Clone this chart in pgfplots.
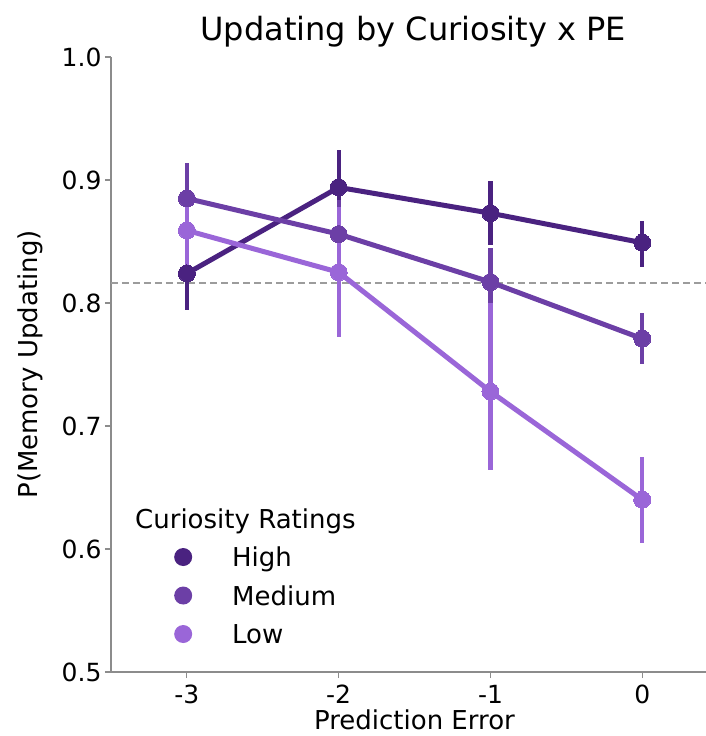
\documentclass[border=0pt]{standalone}
\usepackage{fontspec}
\setmainfont{DejaVu Sans}
\usepackage{pgfplots}
\pgfplotsset{compat=1.18}

\definecolor{HighC}{HTML}{4A2280}
\definecolor{MedC}{HTML}{6C3FA6}
\definecolor{LowC}{HTML}{9A66D8}
\definecolor{SpineC}{HTML}{8C8C8C}
\definecolor{RefC}{HTML}{9C9C9C}

\pgfplotsset{
  pe series/.style={
    color=#1, line width=5pt, mark=*, mark size=8.5pt,
    mark options={solid, fill=#1, draw=#1, line width=0pt},
    error bars/y dir=both, error bars/y explicit, error bars/error mark=none,
    error bars/error bar style={line width=4.2pt, color=#1},
  },
  dot legend/.style={
    legend image code/.code={%
      \path[draw=none, fill=none] (0pt,0pt) -- (75pt,0pt);
      \fill[draw=none, #1] (26pt,0.32em) circle (9pt);},
  },
}

\begin{document}
\begin{tikzpicture}
\begin{axis}[
  scale only axis, width=595pt, height=615pt,
  xmin=-3.5, xmax=0.42, ymin=0.5, ymax=1.0,
  axis lines=left, axis line style={-, SpineC, line width=1.3pt},
  xtick={-3,-2,-1,0}, xticklabels={-3,-2,-1,0},
  ytick={0.5,0.6,0.7,0.8,0.9,1.0}, yticklabels={0.5,0.6,0.7,0.8,0.9,1.0},
  tick align=outside, major tick length=6pt,
  tick style={SpineC, line width=1.2pt},
  /pgf/number format/assume math mode=true,
  ticklabel style={font=\fontsize{25}{30}\selectfont, text=black},
  xticklabel style={anchor=base, yshift=-25pt},
  yticklabel style={anchor=east},
  title={Updating by Curiosity x PE},
  title style={font=\fontsize{32}{38}\selectfont, at={(0.508,1)}, anchor=center, yshift=19pt},
  xlabel={Prediction Error},
  xlabel style={font=\fontsize{26}{31}\selectfont, at={(axis description cs:0.510,0)}, anchor=base, yshift=-57pt},
  ylabel={P(Memory Updating)},
  ylabel style={font=\fontsize{26}{31}\selectfont, at={(axis description cs:-0.124,0.5)}, anchor=base},
  legend style={
    at={(axis description cs:0.0773,0.265)}, anchor=north west,
    draw=none, fill=none, inner sep=0pt,
    font=\fontsize{26}{31}\selectfont,
    row sep=13.5pt, column sep=0pt,
    nodes={inner sep=0pt, text height=19pt, text depth=6pt},
  },
  legend cell align=left,
  clip=false,
]

% chance-level reference
\addplot[RefC, line width=2.2pt, dash pattern=on 7pt off 4pt, forget plot]
  coordinates {(-3.5,0.816) (0.42,0.816)};

% High curiosity
\addplot[forget plot, pe series=HighC] coordinates {
  (-3,0.824) += (0,0.032) -= (0,0.030)
  (-2,0.894) += (0,0.030) -= (0,0.030)
  (-1,0.873) += (0,0.026) -= (0,0.026)
  (0,0.849)  += (0,0.018) -= (0,0.020)
};
% Medium curiosity
\addplot[forget plot, pe series=MedC] coordinates {
  (-3,0.885) += (0,0.029) -= (0,0.030)
  (-2,0.856) += (0,0.028) -= (0,0.028)
  (-1,0.817) += (0,0.028) -= (0,0.030)
  (0,0.771)  += (0,0.021) -= (0,0.021)
};
% Low curiosity
\addplot[forget plot, pe series=LowC] coordinates {
  (-3,0.859) += (0,0.029) -= (0,0.029)
  (-2,0.825) += (0,0.053) -= (0,0.053)
  (-1,0.728) += (0,0.072) -= (0,0.064)
  (0,0.640)  += (0,0.035) -= (0,0.035)
};

\addlegendimage{empty legend}
\addlegendentry{\hspace*{-97pt}Curiosity Ratings}
\addlegendimage{dot legend=HighC}
\addlegendentry{High}
\addlegendimage{dot legend=MedC}
\addlegendentry{Medium}
\addlegendimage{dot legend=LowC}
\addlegendentry{Low}
\end{axis}
\pgfresetboundingbox
\path (-111pt,-64pt) rectangle (595pt,672pt);
\end{tikzpicture}
\end{document}
